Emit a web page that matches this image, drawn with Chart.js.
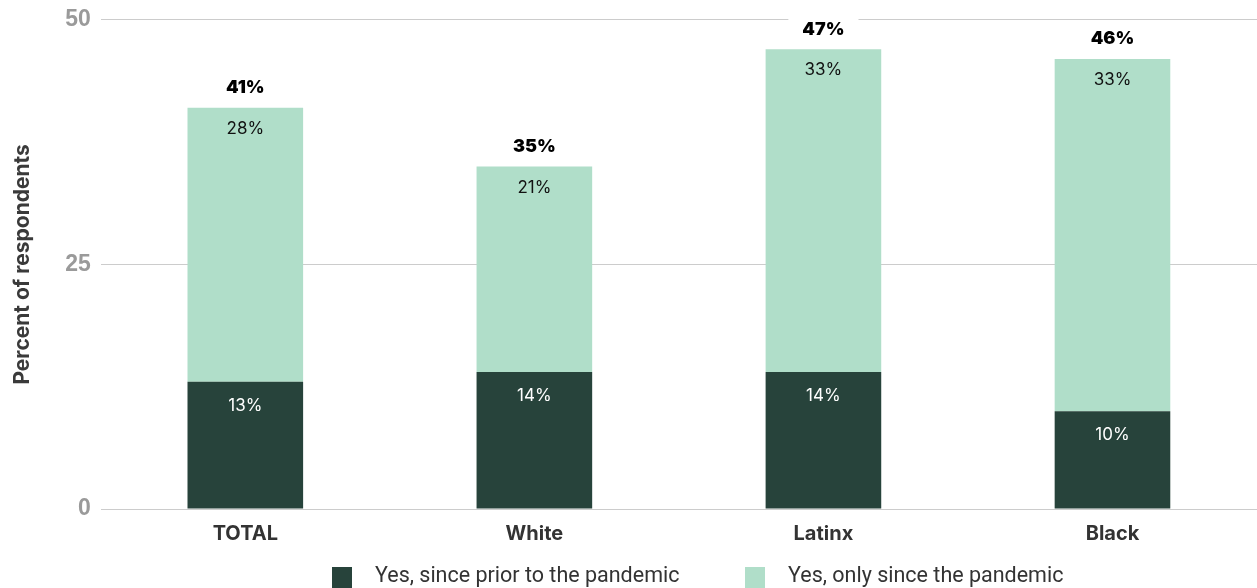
<!DOCTYPE html>
<html>
<head>
<meta charset="utf-8">
<script src="https://cdn.jsdelivr.net/npm/chart.js"></script>
<style>
  html, body { margin: 0; padding: 0; background: #fff; }
  #wrap { width: 1257px; height: 588px; position: relative; }
</style>
</head>
<body>
<div id="wrap"><canvas id="chart"></canvas></div>
<script>
// categories and series
const categories = ['TOTAL', 'White', 'Latinx', 'Black'];
const priorValues = [13, 14, 14, 10];
const onlySinceValues = [28, 21, 33, 36];
const priorLabels = ['13%', '14%', '14%', '10%'];
const onlySinceLabels = ['28%', '21%', '33%', '33%'];
const totalLabels = ['41%', '35%', '47%', '46%'];
const seriesNames = ['Yes, since prior to the pandemic', 'Yes, only since the pandemic'];
const yTicks = [0, 25, 50];

const darkGreen = '#27433b';
const lightGreen = '#b0dec9';

// labels inside and above the bars
const barLabels = {
    id: 'barLabels',
    afterDatasetsDraw(chart) {
        const ctx = chart.ctx;
        const m0 = chart.getDatasetMeta(0);
        const m1 = chart.getDatasetMeta(1);
        ctx.save();
        ctx.textAlign = 'center';
        ctx.textBaseline = 'middle';
        ctx.font = '17px Inter, "Noto Sans", sans-serif';
        m0.data.forEach((bar, i) => {
            ctx.fillStyle = '#ffffff';
            ctx.fillText(priorLabels[i], bar.x, bar.y + 24);
        });
        m1.data.forEach((bar, i) => {
            ctx.fillStyle = '#111111';
            ctx.fillText(onlySinceLabels[i], bar.x, bar.y + 21);
        });
        ctx.font = '900 18px Inter, "Noto Sans", sans-serif';
        m1.data.forEach((bar, i) => {
            const w = ctx.measureText(totalLabels[i]).width + 28;
            const y = bar.y - 20;
            ctx.fillStyle = '#ffffff';
            ctx.fillRect(bar.x - w / 2, y - 12, w, 24);
            ctx.fillStyle = '#000000';
            ctx.fillText(totalLabels[i], bar.x, y);
        });
        ctx.restore();
    }
};

// legend drawn by hand to place it like the original
const customLegend = {
    id: 'customLegend',
    afterDraw(chart) {
        const ctx = chart.ctx;
        const items = [
            { x: 332, color: darkGreen, text: seriesNames[0] },
            { x: 745, color: lightGreen, text: seriesNames[1] }
        ];
        ctx.save();
        ctx.font = '21.5px Roboto, "Noto Sans", sans-serif';
        ctx.textBaseline = 'middle';
        ctx.textAlign = 'left';
        items.forEach(it => {
            ctx.fillStyle = it.color;
            ctx.fillRect(it.x, 567, 20, 21);
            ctx.fillStyle = '#333333';
            ctx.fillText(it.text, it.x + 43, 577);
        });
        ctx.restore();
    }
};

const config = {
    type: 'bar',
    data: {
        labels: categories,
        datasets: [
            {
                label: seriesNames[0],
                data: priorValues,
                backgroundColor: darkGreen,
                barPercentage: 0.4,
                categoryPercentage: 1
            },
            {
                label: seriesNames[1],
                data: onlySinceValues,
                backgroundColor: lightGreen,
                barPercentage: 0.4,
                categoryPercentage: 1
            }
        ]
    },
    options: {
        responsive: true,
        maintainAspectRatio: false,
        animation: false,
        layout: { padding: { top: 0, right: 0, bottom: 37, left: 0 } },
        plugins: {
            legend: { display: false },
            tooltip: { enabled: false }
        },
        scales: {
            x: {
                stacked: true,
                grid: { display: false },
                border: { display: false },
                ticks: {
                    color: '#333333',
                    font: { family: 'Inter, "Noto Sans", sans-serif', size: 20, weight: 'bold' },
                    padding: 5
                }
            },
            y: {
                stacked: true,
                min: 0,
                max: 50,
                afterBuildTicks: axis => { axis.ticks = yTicks.map(v => ({ value: v })); },
                grid: { color: '#cccccc', lineWidth: 1, drawTicks: false },
                border: { display: false },
                ticks: {
                    color: '#9a9a9a',
                    padding: 10,
                    font: { family: '"Liberation Sans", Arial, sans-serif', size: 23, weight: 'bold', lineHeight: 0.85 }
                },
                title: {
                    display: true,
                    text: 'Percent of respondents',
                    color: '#3a3a3a',
                    padding: { top: 10, bottom: 20 },
                    font: { family: 'Inter, "Noto Sans", sans-serif', size: 21, weight: 'bold' }
                }
            }
        }
    },
    plugins: [barLabels, customLegend]
};

const ctx = document.getElementById('chart').getContext('2d');
const chart = new Chart(ctx, config);
</script>
</body>
</html>
